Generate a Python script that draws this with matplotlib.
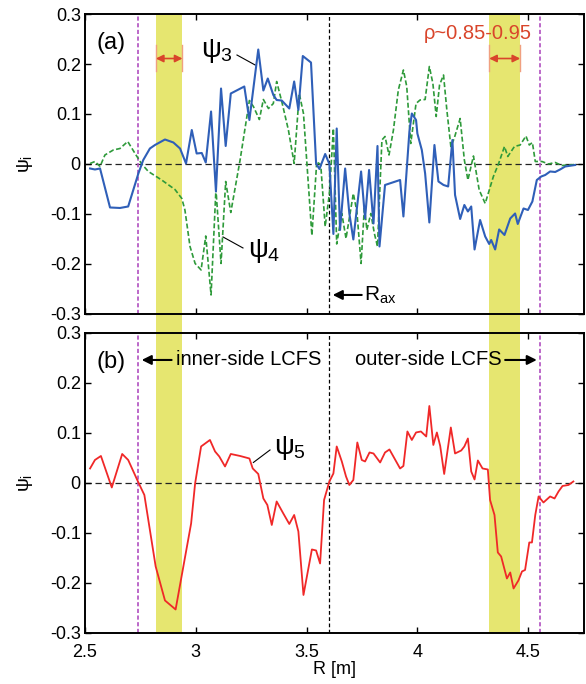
import matplotlib
matplotlib.use('Agg')
import matplotlib.pyplot as plt

plt.rcParams['font.family'] = ['Liberation Sans', 'DejaVu Sans']
plt.rcParams['mathtext.fontset'] = 'custom'
plt.rcParams['mathtext.rm'] = 'Liberation Sans'
plt.rcParams['mathtext.it'] = 'Liberation Sans'
plt.rcParams['axes.unicode_minus'] = False

# psi_3 (blue, solid)
r3 = [2.523, 2.545, 2.568, 2.613, 2.658, 2.695, 2.741, 2.763, 2.793, 2.816,
      2.861, 2.899, 2.929, 2.956, 2.982, 3.004, 3.027, 3.045, 3.069, 3.091,
      3.114, 3.135, 3.158, 3.219, 3.242, 3.282, 3.305, 3.325, 3.350, 3.365,
      3.388, 3.422, 3.444, 3.463, 3.483, 3.520, 3.543, 3.558, 3.584, 3.603,
      3.621, 3.636, 3.651, 3.674, 3.693, 3.711, 3.746, 3.764, 3.782, 3.802,
      3.820, 3.829, 3.854, 3.922, 3.937, 3.964, 3.975, 3.994, 4.000, 4.020,
      4.035, 4.054, 4.077, 4.095, 4.118, 4.139, 4.158, 4.170, 4.193, 4.212,
      4.228, 4.243, 4.258, 4.283, 4.306, 4.324, 4.333, 4.351, 4.369, 4.393,
      4.419, 4.441, 4.453, 4.479, 4.499, 4.519, 4.539, 4.559, 4.577, 4.599,
      4.622, 4.644, 4.667, 4.712]
psi3 = [-0.009, -0.011, -0.009, -0.087, -0.088, -0.085, -0.019, 0.008, 0.031, 0.038,
        0.049, 0.043, 0.031, 0.001, 0.068, 0.021, 0.022, 0.003, 0.105, -0.055,
        0.151, 0.036, 0.141, 0.155, 0.088, 0.229, 0.147, 0.171, 0.138, 0.128,
        0.127, 0.111, 0.165, 0.108, 0.216, 0.203, 0.001, -0.010, 0.020, 0.000,
        -0.140, 0.071, -0.132, -0.009, -0.099, -0.151, -0.015, -0.109, -0.012, -0.119,
        0.036, -0.165, -0.042, -0.032, -0.105, 0.065, 0.101, 0.088, 0.061, 0.028,
        -0.019, -0.117, 0.038, -0.035, -0.042, -0.045, 0.048, -0.062, -0.110, -0.082,
        -0.095, -0.085, -0.171, -0.112, -0.145, -0.160, -0.152, -0.171, -0.131, -0.142,
        -0.109, -0.099, -0.120, -0.089, -0.092, -0.075, -0.032, -0.025, -0.022, -0.015,
        -0.016, -0.011, -0.005, -0.002]

# psi_4 (green, dashed)
r4 = [2.523, 2.545, 2.568, 2.590, 2.628, 2.658, 2.693, 2.726, 2.756, 2.786,
      2.846, 2.906, 2.937, 2.951, 2.974, 2.997, 3.024, 3.045, 3.069, 3.091,
      3.114, 3.135, 3.158, 3.200, 3.242, 3.260, 3.287, 3.305, 3.328, 3.350,
      3.365, 3.388, 3.418, 3.444, 3.467, 3.486, 3.524, 3.546, 3.564, 3.584,
      3.603, 3.621, 3.636, 3.659, 3.678, 3.711, 3.727, 3.746, 3.761, 3.772,
      3.790, 3.806, 3.820, 3.840, 3.854, 3.872, 3.892, 3.914, 3.937, 3.952,
      3.970, 3.994, 4.012, 4.035, 4.054, 4.070, 4.085, 4.100, 4.118, 4.133,
      4.151, 4.166, 4.193, 4.212, 4.228, 4.253, 4.279, 4.306, 4.343, 4.366,
      4.393, 4.408, 4.438, 4.464, 4.490, 4.505, 4.519, 4.532, 4.562, 4.592,
      4.622, 4.652, 4.712]
psi4 = [0.001, 0.005, -0.005, 0.018, 0.028, 0.031, 0.045, 0.021, 0.000, -0.015,
        -0.032, -0.051, -0.069, -0.092, -0.165, -0.199, -0.212, -0.144, -0.262, -0.050,
        -0.199, -0.035, -0.097, 0.008, 0.127, 0.115, 0.089, 0.129, 0.111, 0.121,
        0.165, 0.125, 0.068, 0.001, 0.141, 0.101, -0.143, 0.005, -0.002, -0.125,
        -0.059, 0.071, -0.160, -0.099, -0.149, -0.059, -0.095, -0.199, -0.085, -0.132,
        -0.099, -0.139, -0.165, 0.048, 0.055, 0.018, 0.068, 0.148, 0.188, 0.155,
        0.041, 0.121, 0.128, 0.129, 0.195, 0.161, 0.095, 0.158, 0.178, 0.108,
        0.035, 0.051, 0.091, 0.008, -0.032, 0.016, -0.052, -0.079, -0.025, 0.000,
        0.035, 0.015, 0.035, 0.038, 0.056, 0.038, 0.043, 0.005, 0.005, 0.000,
        0.003, -0.003, -0.001]

# psi_5 (red, solid)
r5 = [2.523, 2.545, 2.572, 2.621, 2.668, 2.695, 2.741, 2.768, 2.819, 2.861,
      2.909, 2.944, 2.979, 2.997, 3.024, 3.064, 3.087, 3.106, 3.132, 3.158,
      3.200, 3.242, 3.257, 3.282, 3.305, 3.323, 3.343, 3.365, 3.395, 3.422,
      3.444, 3.463, 3.486, 3.524, 3.543, 3.561, 3.579, 3.603, 3.621, 3.636,
      3.659, 3.678, 3.693, 3.711, 3.729, 3.749, 3.764, 3.784, 3.802, 3.832,
      3.854, 3.874, 3.922, 3.937, 3.955, 3.975, 3.994, 4.016, 4.040, 4.054,
      4.072, 4.088, 4.103, 4.121, 4.151, 4.170, 4.198, 4.212, 4.228, 4.243,
      4.258, 4.273, 4.294, 4.318, 4.328, 4.348, 4.363, 4.378, 4.404, 4.419,
      4.434, 4.456, 4.472, 4.486, 4.505, 4.517, 4.532, 4.547, 4.569, 4.599,
      4.619, 4.637, 4.655, 4.682, 4.704]
psi5 = [0.029, 0.046, 0.054, -0.009, 0.058, 0.046, 0.001, -0.024, -0.167, -0.235,
        -0.253, -0.167, -0.081, -0.001, 0.073, 0.086, 0.063, 0.053, 0.033, 0.058,
        0.054, 0.049, 0.029, 0.018, -0.031, -0.044, -0.084, -0.037, -0.061, -0.082,
        -0.064, -0.097, -0.224, -0.133, -0.135, -0.161, -0.034, 0.003, 0.019, 0.073,
        0.043, 0.013, -0.004, 0.006, 0.081, 0.046, 0.043, 0.061, 0.059, 0.041,
        0.061, 0.067, 0.029, 0.034, 0.103, 0.086, 0.101, 0.103, 0.093, 0.154,
        0.076, 0.101, 0.074, 0.018, 0.111, 0.059, 0.065, 0.073, 0.089, 0.023,
        0.007, 0.045, 0.029, 0.027, -0.034, -0.064, -0.139, -0.147, -0.191, -0.179,
        -0.211, -0.195, -0.177, -0.174, -0.119, -0.119, -0.064, -0.027, -0.039, -0.027,
        -0.031, -0.017, -0.006, -0.004, 0.003]

R_LCFS = [2.74, 4.554]
R_AX = 3.60
BANDS = [(2.82, 2.94), (4.324, 4.464)]
XTICKS = [2.5, 3, 3.5, 4, 4.5]
XTICKLABELS = ['2.5', '3', '3.5', '4', '4.5']
YTICKS = [-0.3, -0.2, -0.1, 0, 0.1, 0.2, 0.3]
YTICKLABELS = ['-0.3', '-0.2', '-0.1', '0', '0.1', '0.2', '0.3']

YELLOW = '#e6e670'
MAGENTA = '#b04fc0'
ORANGE_RED = '#d9452b'

fig = plt.figure(figsize=(5.86, 6.84), dpi=100)
ax1 = fig.add_axes([0.145, 0.541, 0.852, 0.4385])
ax2 = fig.add_axes([0.145, 0.0746, 0.852, 0.4386])

for ax in (ax1, ax2):
    ax.set_xlim(2.5, 4.753)
    ax.set_ylim(-0.3, 0.3)
    ax.set_xticks(XTICKS)
    ax.set_yticks(YTICKS)
    ax.set_yticklabels(YTICKLABELS)
    ax.tick_params(direction='in', top=True, right=True, length=4, width=1,
                   labelsize=13)
    ax.tick_params(axis='y', pad=3)
    ax.tick_params(axis='x', pad=8)
    for s in ax.spines.values():
        s.set_linewidth(1.4)
    ax.axhline(0, color='#222222', lw=0.9, ls=(0, (5, 3)), zorder=1)
    for rl in R_LCFS:
        ax.axvline(rl, color=MAGENTA, lw=1.2, ls=(0, (2.5, 1.5)), zorder=2)
    ax.axvline(R_AX, color='k', lw=0.9, ls=(0, (3, 2)), zorder=2)

# yellow bands, continuous through the gap between panels
for b0, b1 in BANDS:
    sp = ax1.axvspan(b0, b1, ymin=-0.07, ymax=1, color=YELLOW, lw=0, zorder=0)
    sp.set_clip_on(False)
    ax2.axvspan(b0, b1, color=YELLOW, lw=0, zorder=0)

ax1.set_xticklabels([])
ax2.set_xticklabels(XTICKLABELS)

# top panel
ax1.plot(r4, psi4, color='#2e9a3a', lw=1.2, ls=(0, (3, 1.5)), zorder=3)
ax1.plot(r3, psi3, color='#2f5fb8', lw=1.5, zorder=4)

ax1.text(2.55, 0.242, '(a)', fontsize=17, va='center', ha='left')
ax1.text(3.025, 0.226, r'$\psi_3$', fontsize=20, va='center', ha='left')
ax1.plot([3.186, 3.268], [0.218, 0.198], color='k', lw=0.8)
ax1.text(3.236, -0.174, r'$\psi_4$', fontsize=20, va='center', ha='left')
ax1.plot([3.123, 3.213], [-0.146, -0.168], color='k', lw=0.8)

ax1.annotate('', xy=(3.618, -0.262), xytext=(3.749, -0.262),
             arrowprops=dict(arrowstyle='-|>', color='k', lw=1.5,
                             mutation_scale=14, shrinkA=0, shrinkB=0))
ax1.text(3.76, -0.262, r'R$_{ax}$', fontsize=15, va='center', ha='left')

ax1.text(4.274, 0.262, 'ρ~0.85-0.95', fontsize=14.5, va='center', ha='center',
         color=ORANGE_RED)
for b0, b1 in BANDS:
    ax1.annotate('', xy=(b0, 0.211), xytext=(b1, 0.211),
                 arrowprops=dict(arrowstyle='<|-|>', color=ORANGE_RED, lw=1.2,
                                 mutation_scale=11, shrinkA=0, shrinkB=0))
    ax1.plot([b0, b0], [0.186, 0.238], color='#f0a080', lw=1)
    ax1.plot([b1, b1], [0.186, 0.238], color='#f0a080', lw=1)

# bottom panel
ax2.plot(r5, psi5, color='#f02828', lw=1.3, zorder=4)
ax2.text(2.55, 0.242, '(b)', fontsize=17, va='center', ha='left')
ax2.text(3.355, 0.07, r'$\psi_5$', fontsize=20, va='center', ha='left')
ax2.plot([3.26, 3.335], [0.041, 0.066], color='k', lw=0.8)

ax2.annotate('', xy=(2.756, 0.246), xytext=(2.891, 0.246),
             arrowprops=dict(arrowstyle='-|>', color='k', lw=1.5,
                             mutation_scale=14, shrinkA=0, shrinkB=0))
ax2.text(2.912, 0.246, 'inner-side LCFS', fontsize=14.5, va='center', ha='left')
ax2.annotate('', xy=(4.539, 0.246), xytext=(4.396, 0.246),
             arrowprops=dict(arrowstyle='-|>', color='k', lw=1.5,
                             mutation_scale=14, shrinkA=0, shrinkB=0))
ax2.text(4.381, 0.246, 'outer-side LCFS', fontsize=14.5, va='center', ha='right')

ax2.set_xlabel('R [m]', fontsize=13, labelpad=0)
fig.text(0.043, 0.76, r'$\psi_\mathregular{i}$', fontsize=14, rotation=90,
         va='center', ha='center')
fig.text(0.043, 0.294, r'$\psi_\mathregular{i}$', fontsize=14, rotation=90,
         va='center', ha='center')

fig.savefig('out.png', dpi=100)
